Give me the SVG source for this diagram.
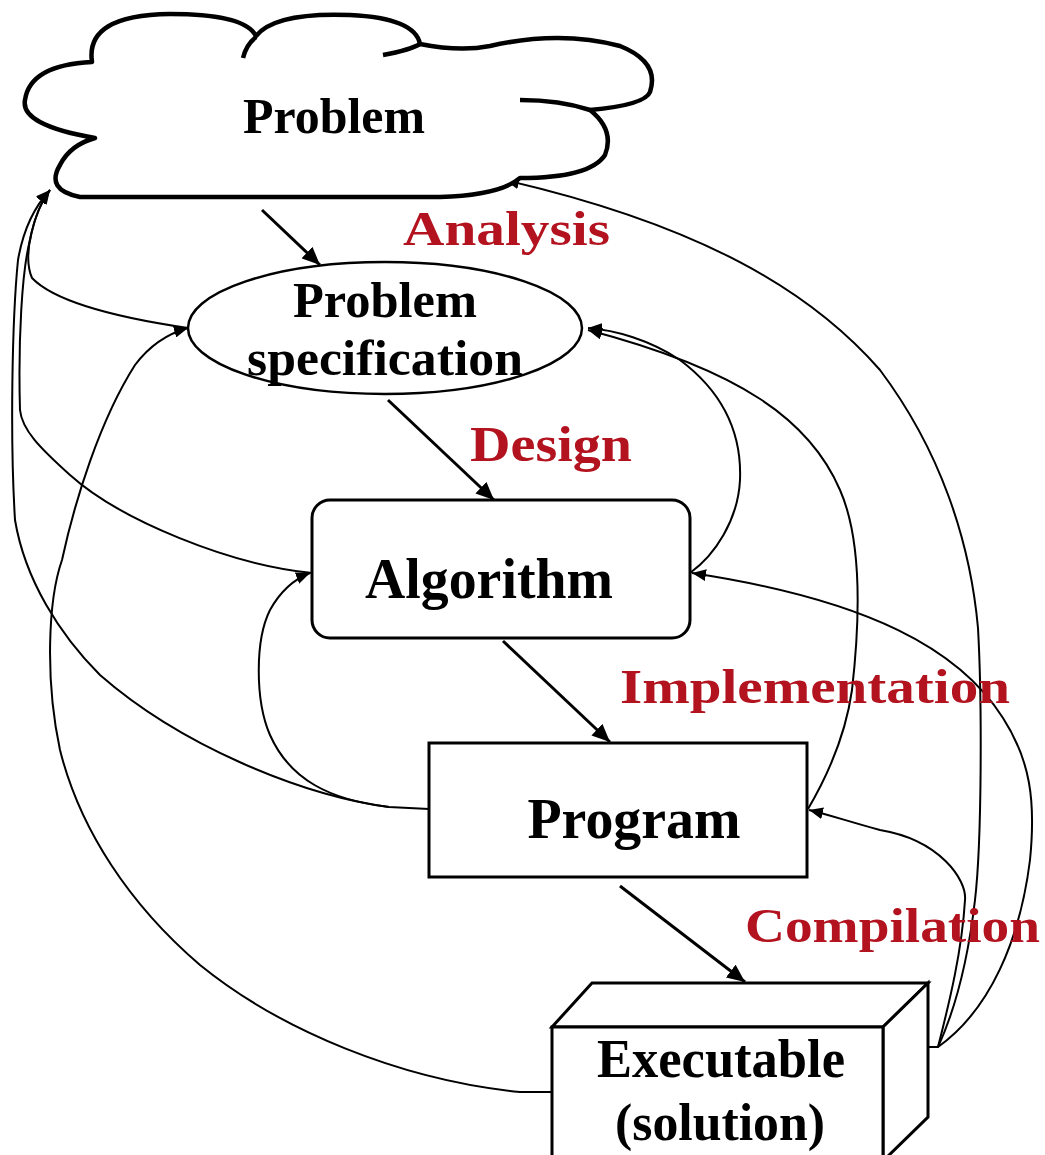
<svg xmlns="http://www.w3.org/2000/svg" width="1045" height="1155" viewBox="0 0 1045 1155">
  <style>
    .node { fill: #ffffff; stroke: #000000; stroke-width: 3; }
    .label { font-family: "Liberation Serif", "Times New Roman", serif; font-weight: bold; fill: #000000; text-anchor: middle; }
    .phase { font-family: "Liberation Serif", "Times New Roman", serif; font-weight: bold; fill: #b3121f; }
    .flow { fill: none; stroke: #000000; stroke-width: 3; }
    .back { fill: none; stroke: #000000; stroke-width: 2; }
  </style>
  <defs>
    <marker id="headBig" markerUnits="userSpaceOnUse" markerWidth="20" markerHeight="16" refX="18" refY="8" orient="auto">
      <path d="M0,0 L18,8 L0,16 Z" fill="#000000"/>
    </marker>
    <marker id="headSmall" markerUnits="userSpaceOnUse" markerWidth="16" markerHeight="12" refX="14" refY="6" orient="auto">
      <path d="M0,0 L14,6 L0,12 Z" fill="#000000"/>
    </marker>
  </defs>

  <rect x="0" y="0" width="1045" height="1155" fill="#ffffff"/>

  <!-- feedback and forward connectors -->
  <g id="connectors">
    <!-- forward steps -->
    <path class="flow" d="M262,210 L320,265" marker-end="url(#headBig)"/>
    <path class="flow" d="M388,400 L494,500" marker-end="url(#headBig)"/>
    <path class="flow" d="M503,641 L610,742" marker-end="url(#headBig)"/>
    <path class="flow" d="M620,886 L745,982" marker-end="url(#headBig)"/>

    <!-- specification back to problem -->
    <path class="back" d="M188,328 C120,318 55,302 32,278 C22,255 34,212 50,190" marker-end="url(#headSmall)"/>
    <!-- algorithm back to problem -->
    <path class="back" d="M312,573 C230,565 120,520 70,475 C40,448 22,430 20,410 C18,340 22,270 30,240 C35,215 42,200 50,190" marker-end="url(#headSmall)"/>
    <!-- program back to problem -->
    <path class="back" d="M429,809 L389,807 C300,795 180,745 100,675 C60,635 25,580 15,520 C10,440 12,320 18,260 C24,225 36,205 50,190" marker-end="url(#headSmall)"/>
    <!-- program back to algorithm -->
    <path class="back" d="M389,807 C330,800 290,780 270,735 C255,700 255,640 270,610 C280,592 292,580 310,573" marker-end="url(#headSmall)"/>
    <!-- executable back to specification -->
    <path class="back" d="M552,1092 L520,1092 C400,1080 280,1030 200,965 C130,905 80,830 60,750 C45,680 48,600 62,560 C75,500 100,420 135,365 C150,345 170,333 188,328" marker-end="url(#headSmall)"/>
    <!-- algorithm back to specification -->
    <path class="back" d="M690,573 C715,555 738,520 740,480 C742,430 720,390 680,360 C650,340 615,330 588,328" marker-end="url(#headSmall)"/>
    <!-- program back to specification -->
    <path class="back" d="M808,809 C825,780 845,740 852,690 C860,620 862,540 840,490 C810,420 740,370 588,330" marker-end="url(#headSmall)"/>
    <!-- executable back to problem -->
    <path class="back" d="M928,1047 L938,1047 C955,1010 968,960 975,900 C982,840 982,700 978,628 C970,540 940,450 880,370 C810,290 700,225 505,180" marker-end="url(#headSmall)"/>
    <!-- executable back to algorithm -->
    <path class="back" d="M938,1047 C990,1010 1020,940 1030,860 C1036,800 1030,760 1003,718 C960,650 870,600 692,573" marker-end="url(#headSmall)"/>
    <!-- executable back to program -->
    <path class="back" d="M938,1047 C950,1000 962,950 965,900 C967,880 940,840 880,830 C850,822 830,815 809,810" marker-end="url(#headSmall)"/>
  </g>

  <!-- problem cloud -->
  <g id="problem">
    <path d="M92,62 Q85,15 170,14 Q245,14 256,36 Q275,12 350,15 Q415,18 420,44 Q460,52 490,46 Q560,30 620,46 Q660,62 650,92 Q645,105 590,110 Q615,130 605,155 Q590,178 520,178 Q500,195 440,197 L80,197 Q45,190 60,165 Q70,145 95,138 Q20,125 25,100 Q30,65 92,62 Z" fill="#ffffff" stroke="#000000" stroke-width="4.5" stroke-linejoin="round"/>
    <path d="M243,58 Q246,45 256,37 M383,55 Q410,50 420,44 M520,100 Q560,100 590,110" fill="none" stroke="#000000" stroke-width="4.5"/>
    <text class="label" x="334" y="133" font-size="50" textLength="182" lengthAdjust="spacingAndGlyphs">Problem</text>
  </g>

  <!-- problem specification -->
  <g id="specification">
    <ellipse cx="385" cy="328" rx="197" ry="66" fill="#ffffff" stroke="#000000" stroke-width="2.5"/>
    <text class="label" x="385" y="317" font-size="50" textLength="184" lengthAdjust="spacingAndGlyphs">Problem</text>
    <text class="label" x="385" y="375" font-size="50" textLength="276" lengthAdjust="spacingAndGlyphs">specification</text>
  </g>

  <!-- algorithm -->
  <g id="algorithm">
    <rect class="node" x="312" y="500" width="378" height="138" rx="18" ry="18"/>
    <text class="label" x="489" y="598" font-size="56" textLength="248" lengthAdjust="spacingAndGlyphs">Algorithm</text>
  </g>

  <!-- program -->
  <g id="program">
    <rect class="node" x="429" y="743" width="378" height="134"/>
    <text class="label" x="634" y="838" font-size="56" textLength="213" lengthAdjust="spacingAndGlyphs">Program</text>
  </g>

  <!-- executable box -->
  <g id="executable">
    <path d="M552,1027 L592,983 L928,983 L883,1027 Z" fill="#ffffff" stroke="#000000" stroke-width="3" stroke-linejoin="miter"/>
    <path d="M883,1027 L928,983 L928,1117 L883,1161 Z" fill="#ffffff" stroke="#000000" stroke-width="3"/>
    <rect class="node" x="552" y="1027" width="331" height="140"/>
    <text class="label" x="721" y="1077" font-size="54" textLength="248" lengthAdjust="spacingAndGlyphs">Executable</text>
    <text class="label" x="720" y="1140" font-size="52" textLength="210" lengthAdjust="spacingAndGlyphs">(solution)</text>
  </g>

  <!-- phase labels -->
  <g id="phases">
    <text class="phase" x="403" y="245" font-size="48" textLength="207" lengthAdjust="spacingAndGlyphs">Analysis</text>
    <text class="phase" x="470" y="461" font-size="50" textLength="162" lengthAdjust="spacingAndGlyphs">Design</text>
    <text class="phase" x="620" y="703" font-size="48" textLength="390" lengthAdjust="spacingAndGlyphs">Implementation</text>
    <text class="phase" x="745" y="942" font-size="48" textLength="295" lengthAdjust="spacingAndGlyphs">Compilation</text>
  </g>
</svg>
